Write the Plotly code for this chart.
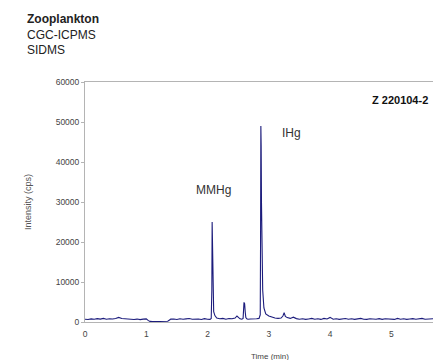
import plotly.graph_objects as go

# Chromatogram (time in min, intensity in cps)
time_min = [
    0.00, 0.05, 0.10, 0.15, 0.20, 0.25, 0.30, 0.35, 0.40, 0.45,
    0.50, 0.55, 0.60, 0.65, 0.70, 0.75, 0.80, 0.85, 0.90, 0.95,
    1.00, 1.03, 1.06, 1.10, 1.15, 1.20, 1.25, 1.30, 1.35, 1.38,
    1.40, 1.45, 1.50, 1.55, 1.60, 1.65, 1.70, 1.75, 1.80, 1.85,
    1.90, 1.95, 2.00, 2.04, 2.06, 2.07, 2.075, 2.08, 2.085, 2.09,
    2.10, 2.12, 2.15, 2.20, 2.25, 2.30, 2.35, 2.40, 2.45, 2.48,
    2.50, 2.53, 2.56, 2.58, 2.595, 2.605, 2.615, 2.625, 2.64, 2.66,
    2.70, 2.75, 2.80, 2.84, 2.86, 2.865, 2.87, 2.875, 2.88, 2.885,
    2.89, 2.90, 2.92, 2.95, 3.00, 3.05, 3.10, 3.15, 3.20, 3.23,
    3.25, 3.27, 3.30, 3.35, 3.40, 3.45, 3.50, 3.55, 3.60, 3.65,
    3.70, 3.75, 3.80, 3.85, 3.90, 3.95, 4.00, 4.05, 4.10, 4.15,
    4.20, 4.25, 4.30, 4.35, 4.40, 4.45, 4.50, 4.55, 4.60, 4.65,
    4.70, 4.75, 4.80, 4.85, 4.90, 4.95, 5.00, 5.05, 5.10, 5.15,
    5.20, 5.25, 5.30, 5.35, 5.40, 5.45, 5.50, 5.55, 5.60, 5.65,
    5.70, 5.75, 5.81,
]
intensity_cps = [
    700, 620, 780, 690, 830, 720, 900, 680, 820, 740,
    860, 1150, 880, 820, 690, 770, 640, 730, 600, 720,
    780, 400, 150, 100, 140, 90, 120, 100, 180, 500,
    720, 760, 640, 820, 690, 770, 860, 700, 810, 750,
    640, 830, 700, 650, 900, 8000, 25000, 20000, 12000, 6000,
    2600, 1600, 1000, 800, 900, 700, 860, 800, 1000, 1500,
    1200, 800, 700, 900, 4900, 4600, 2500, 1100, 800, 700,
    760, 700, 800, 900, 1800, 20000, 49000, 44000, 30000, 20000,
    12000, 8000, 3500, 2000, 1500, 1200, 1000, 900, 1000, 1500,
    2300, 1400, 1100, 900, 1200, 850, 700, 820, 650, 770,
    900, 700, 810, 650, 900, 740, 1150, 700, 800, 650,
    760, 860, 700, 800, 650, 760, 900, 700, 650, 800,
    760, 700, 850, 650, 800, 700, 760, 650, 900, 700,
    800, 650, 760, 850, 700, 800, 900, 700, 760, 650,
    800, 900, 760,
]

x_ticks = [0, 1, 2, 3, 4, 5]
y_ticks = [0, 10000, 20000, 30000, 40000, 50000, 60000]

FONT = "Liberation Sans, Arial, sans-serif"

fig = go.Figure()
fig.add_trace(go.Scatter(
    x=time_min, y=intensity_cps, mode="lines",
    line=dict(color="#1c1c7c", width=1.1),
    hoverinfo="skip", showlegend=False,
))

tick_font = dict(family=FONT, size=8.5, color="#444444")

# The page body has an 8px default margin, so the figure is 8px smaller
# and every position is shifted by 8px.
PL, PT, PB = 77, 74, 38
FW, FH = 433, 352
PW = FW - PL
PH = FH - PT - PB

fig.update_layout(
    width=FW, height=FH,
    margin=dict(l=PL, r=0, t=PT, b=PB, autoexpand=False),
    paper_bgcolor="white", plot_bgcolor="white",
    font=dict(family=FONT, color="#333333"),
    xaxis=dict(
        range=[0, 5.81], tickvals=x_ticks, ticktext=[str(v) for v in x_ticks],
        showgrid=False, zeroline=False, showline=True, linecolor="#b4b4b4",
        linewidth=1, mirror=True, ticks="", tickfont=tick_font,
        ticklabelstandoff=4,
    ),
    yaxis=dict(
        range=[0, 60000], tickvals=y_ticks, ticktext=[str(v) for v in y_ticks],
        showgrid=False, zeroline=False, showline=True, linecolor="#b4b4b4",
        linewidth=1, ticks="outside", ticklen=3, tickcolor="#b4b4b4",
        tickfont=tick_font,
    ),
    annotations=[
        dict(text="<b>Zooplankton</b><br>CGC-ICPMS<br>SIDMS", xref="paper", yref="paper",
             x=(17 - PL) / PW, y=1 + (PT - 2) / PH, xanchor="left", yanchor="top", align="left",
             showarrow=False, font=dict(family=FONT, size=12, color="#222222")),
        dict(text="<b>Z 220104-2</b>", xref="paper", yref="paper",
             x=(362 - PL) / PW, y=1 - 18 / PH, xanchor="left", yanchor="middle",
             showarrow=False, font=dict(family=FONT, size=11, color="#111111")),
        dict(text="IHg", x=3.37, y=47200, xanchor="center", yanchor="middle",
             showarrow=False, font=dict(family=FONT, size=12, color="#333333")),
        dict(text="MMHg", x=2.1, y=32900, xanchor="center", yanchor="middle",
             showarrow=False, font=dict(family=FONT, size=12, color="#333333")),
        dict(text="Time (min)", xref="paper", yref="paper",
             x=(262 - PL) / PW, y=-(34 / PH), xanchor="center", yanchor="middle",
             showarrow=False, font=dict(family=FONT, size=8, color="#444444")),
        dict(text="Intensity (cps)", xref="paper", yref="paper",
             x=(20 - PL) / PW, y=0.5, xanchor="center", yanchor="middle", textangle=-90,
             showarrow=False, font=dict(family=FONT, size=9, color="#555555")),
    ],
)

fig.write_html("out.html")
